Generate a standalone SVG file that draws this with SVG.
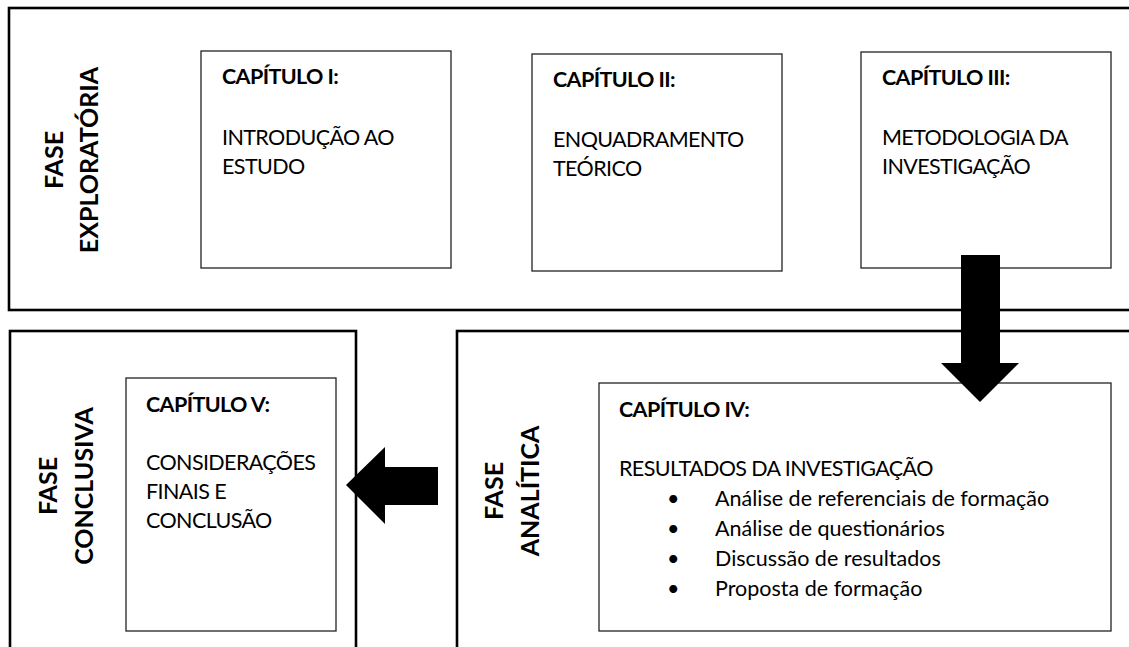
<svg xmlns="http://www.w3.org/2000/svg" width="1129" height="647" viewBox="0 0 1129 647">
<style>
.outer{fill:none;stroke:#000;stroke-width:2.6}
.box{fill:#fff;stroke:#222;stroke-width:1.3}
.t{font-family:Lato,"Open Sans","Liberation Sans",sans-serif;font-size:21.5px;fill:#000}
.c{letter-spacing:-0.6px}
.b{font-weight:bold}
.ph{font-family:Lato,"Open Sans","Liberation Sans",sans-serif;font-size:25px;font-weight:bold;fill:#000;text-anchor:middle}
.arrow{fill:#000;stroke:none}
</style>
<rect width="1129" height="647" fill="#fff"/>
<g id="phase-exploratoria">
<rect class="outer" x="9" y="8" width="1130" height="302"/>
<text class="ph" transform="translate(63,160) rotate(-90)">FASE</text>
<text class="ph" transform="translate(98,160) rotate(-90)">EXPLORATÓRIA</text>
</g>
<g id="phase-conclusiva">
<rect class="outer" x="10" y="331" width="346" height="330"/>
<text class="ph" transform="translate(57,486) rotate(-90)">FASE</text>
<text class="ph" transform="translate(93,486) rotate(-90)">CONCLUSIVA</text>
</g>
<g id="phase-analitica">
<rect class="outer" x="457" y="331" width="690" height="330"/>
<text class="ph" transform="translate(503,491) rotate(-90)">FASE</text>
<text class="ph" transform="translate(539,491) rotate(-90)">ANALÍTICA</text>
</g>
<g id="cap1">
<rect class="box" x="201" y="51" width="250" height="217"/>
<text class="t b c" x="222" y="84">CAPÍTULO I:</text>
<text class="t c" x="222" y="145">INTRODUÇÃO AO</text>
<text class="t c" x="222" y="174">ESTUDO</text>
</g>
<g id="cap2">
<rect class="box" x="532" y="54" width="250" height="217"/>
<text class="t b c" x="553" y="87">CAPÍTULO II:</text>
<text class="t c" x="553" y="147">ENQUADRAMENTO</text>
<text class="t c" x="553" y="176">TEÓRICO</text>
</g>
<g id="cap3">
<rect class="box" x="861" y="52" width="250" height="216"/>
<text class="t b c" x="882" y="85">CAPÍTULO III:</text>
<text class="t c" x="882" y="145">METODOLOGIA DA</text>
<text class="t c" x="882" y="174">INVESTIGAÇÃO</text>
</g>
<g id="cap4">
<rect class="box" x="599" y="383" width="512" height="248"/>
<text class="t b c" x="619" y="417">CAPÍTULO IV:</text>
<text class="t c" x="619" y="476">RESULTADOS DA INVESTIGAÇÃO</text>
<text class="t" x="667" y="506">•</text>
<text class="t" x="715" y="506">Análise de referenciais de formação</text>
<text class="t" x="667" y="536">•</text>
<text class="t" x="715" y="536">Análise de questionários</text>
<text class="t" x="667" y="566">•</text>
<text class="t" x="715" y="566">Discussão de resultados</text>
<text class="t" x="667" y="596">•</text>
<text class="t" x="715" y="596">Proposta de formação</text>
</g>
<g id="cap5">
<rect class="box" x="126" y="378" width="210" height="253"/>
<text class="t b c" x="146" y="412">CAPÍTULO V:</text>
<text class="t c" x="146" y="470">CONSIDERAÇÕES</text>
<text class="t c" x="146" y="499">FINAIS E</text>
<text class="t c" x="146" y="528">CONCLUSÃO</text>
</g>
<g id="connectors">
<polygon class="arrow" points="961,255 1000,255 1000,363 1019,363 980,402 941,363 961,363"/>
<polygon class="arrow" points="438,467 438,505 385,505 385,524 346,485 385,447 385,467"/>
</g>
</svg>
